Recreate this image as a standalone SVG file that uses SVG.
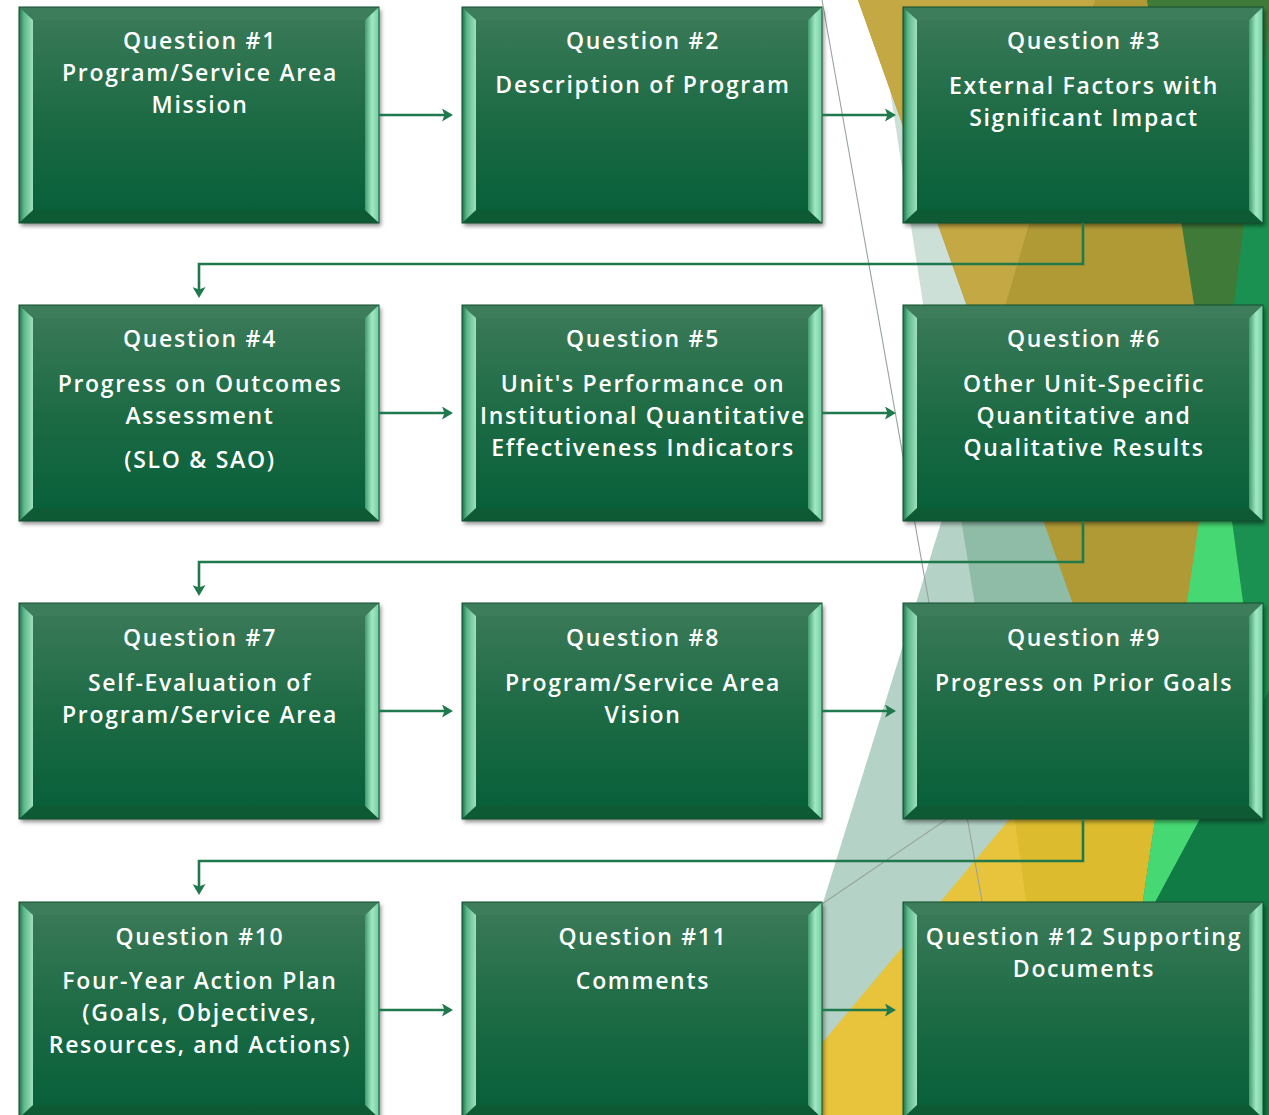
<svg xmlns="http://www.w3.org/2000/svg" xmlns:xlink="http://www.w3.org/1999/xlink" width="1269" height="1115" viewBox="0 0 1269 1115">
<style>
.t{font-family:"Open Sans","Noto Sans","DejaVu Sans",sans-serif;font-weight:600;font-size:23px;letter-spacing:1.7px;fill:#ffffff;text-anchor:middle}
.conn{fill:none;stroke:#20794d;stroke-width:2.6}
.gl{stroke:#98a39e;stroke-width:1.1;fill:none}
</style>
<defs>
<linearGradient id="gFace" x1="0" y1="0" x2="0" y2="1"><stop offset="0" stop-color="#397957"/><stop offset="0.5" stop-color="#1d6b45"/><stop offset="1" stop-color="#08603a"/></linearGradient>
<linearGradient id="gL" x1="0" y1="0" x2="1" y2="0"><stop offset="0" stop-color="#1f7048"/><stop offset="0.35" stop-color="#5cb88a"/><stop offset="1" stop-color="#9fe0bd"/></linearGradient>
<linearGradient id="gR" x1="0" y1="0" x2="1" y2="0"><stop offset="0" stop-color="#3f9c6e"/><stop offset="0.5" stop-color="#a3e8c3"/><stop offset="1" stop-color="#6fcf9f"/></linearGradient>
<filter id="sh" x="-5%" y="-5%" width="115%" height="115%"><feDropShadow dx="2" dy="3" stdDeviation="2" flood-color="#000" flood-opacity="0.45"/></filter>
<marker id="arrow" markerUnits="userSpaceOnUse" viewBox="0 0 11 13" markerWidth="11" markerHeight="13" refX="4" refY="6.5" orient="auto"><path d="M0,0 L11,6.5 L0,13 L2.5,6.5 Z" fill="#20794d"/></marker>
<g id="box">
<rect width="360" height="216" fill="#1a5e3c" filter="url(#sh)"/>
<rect x="14" y="13" width="332" height="190" fill="url(#gFace)"/>
<polygon points="0,0 360,0 346,13 14,13" fill="#3d7d5c"/>
<polygon points="0,216 360,216 346,203 14,203" fill="#0d5a35"/>
<polygon points="0,0 14,13 14,203 0,216" fill="url(#gL)"/>
<polygon points="360,0 346,13 346,203 360,216" fill="url(#gR)"/>
<rect width="360" height="216" fill="none" stroke="#12502f" stroke-width="1"/>
</g>
</defs>
<g id="background">
<rect width="1269" height="1115" fill="#ffffff"/>
<polygon points="1140,0 1269,0 1269,1115 1090,1115" fill="#1a9150"/>
<polygon points="876,0 1050,0 1050,400 938,400" fill="#cde0d7"/>
<polygon points="973,420 1100,420 1100,1115 757,1115" fill="#b4d2c5"/>
<polygon points="950,450 1070,450 1100,680 987,680" fill="#8fbca6"/>
<polygon points="858,0 1160,0 1216,447 1200,521 1173,700 1107,700" fill="#b09a36"/>
<polygon points="858,0 1095,0 988,364" fill="#c4a843"/>
<polygon points="1110,700 1173,700 1138,934 1100,1115 762,1115" fill="#dcbc2e"/>
<polygon points="1014,814 1056,1115 762,1115" fill="#e7c43c"/>
<polygon points="1147,0 1272,0 1216,447" fill="#3f7a38"/>
<polygon points="1217,400 1232,521 1258,712 1200,819 1138,934" fill="#46d872"/>
<polygon points="1200,819 1258,712 1269,690 1269,1115 1100,1115 1138,934" fill="#117b45"/>
<line class="gl" x1="822" y1="0" x2="1020" y2="1115"/>
<line class="gl" x1="822" y1="904" x2="1240" y2="620"/>
</g>
<g id="q1"><use xlink:href="#box" x="19" y="7"/><text class="t" x="200" y="49">Question #1</text><text class="t" x="200" y="81">Program/Service Area</text><text class="t" x="200" y="113">Mission</text></g>
<g id="q2"><use xlink:href="#box" x="462" y="7"/><text class="t" x="643" y="49">Question #2</text><text class="t" x="643" y="93">Description of Program</text></g>
<g id="q3"><use xlink:href="#box" x="903" y="7"/><text class="t" x="1084" y="49">Question #3</text><text class="t" x="1084" y="94">External Factors with</text><text class="t" x="1084" y="126">Significant Impact</text></g>
<g id="q4"><use xlink:href="#box" x="19" y="305"/><text class="t" x="200" y="347">Question #4</text><text class="t" x="200" y="392">Progress on Outcomes</text><text class="t" x="200" y="424">Assessment</text><text class="t" x="200" y="468">(SLO &amp; SAO)</text></g>
<g id="q5"><use xlink:href="#box" x="462" y="305"/><text class="t" x="643" y="347">Question #5</text><text class="t" x="643" y="392">Unit's Performance on</text><text class="t" x="643" y="424">Institutional Quantitative</text><text class="t" x="643" y="456">Effectiveness Indicators</text></g>
<g id="q6"><use xlink:href="#box" x="903" y="305"/><text class="t" x="1084" y="347">Question #6</text><text class="t" x="1084" y="392">Other Unit-Specific</text><text class="t" x="1084" y="424">Quantitative and</text><text class="t" x="1084" y="456">Qualitative Results</text></g>
<g id="q7"><use xlink:href="#box" x="19" y="603"/><text class="t" x="200" y="646">Question #7</text><text class="t" x="200" y="691">Self-Evaluation of</text><text class="t" x="200" y="723">Program/Service Area</text></g>
<g id="q8"><use xlink:href="#box" x="462" y="603"/><text class="t" x="643" y="646">Question #8</text><text class="t" x="643" y="691">Program/Service Area</text><text class="t" x="643" y="723">Vision</text></g>
<g id="q9"><use xlink:href="#box" x="903" y="603"/><text class="t" x="1084" y="646">Question #9</text><text class="t" x="1084" y="691">Progress on Prior Goals</text></g>
<g id="q10"><use xlink:href="#box" x="19" y="902"/><text class="t" x="200" y="945">Question #10</text><text class="t" x="200" y="989">Four-Year Action Plan</text><text class="t" x="200" y="1021">(Goals, Objectives,</text><text class="t" x="200" y="1053">Resources, and Actions)</text></g>
<g id="q11"><use xlink:href="#box" x="462" y="902"/><text class="t" x="643" y="945">Question #11</text><text class="t" x="643" y="989">Comments</text></g>
<g id="q12"><use xlink:href="#box" x="903" y="902"/><text class="t" x="1084" y="945">Question #12 Supporting</text><text class="t" x="1084" y="977">Documents</text></g>
<g id="connectors" class="conn" marker-end="url(#arrow)">
<path d="M379,115 H446"/>
<path d="M822,115 H889"/>
<path d="M1083,223 V264 H199 V291"/>
<path d="M379,413 H446"/>
<path d="M822,413 H889"/>
<path d="M1083,521 V562 H199 V589"/>
<path d="M379,711 H446"/>
<path d="M822,711 H889"/>
<path d="M1083,819 V861 H199 V888"/>
<path d="M379,1010 H446"/>
<path d="M822,1010 H889"/>
</g>
</svg>
